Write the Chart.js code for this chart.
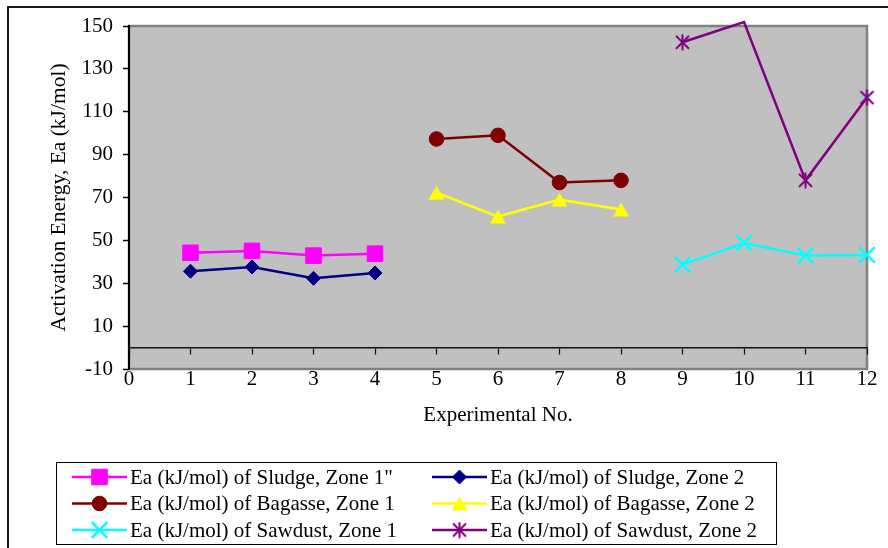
<!DOCTYPE html>
<html>
<head>
<meta charset="utf-8">
<script src="https://cdn.jsdelivr.net/npm/chart.js@4.4.1/dist/chart.umd.min.js"></script>
<style>
  html, body { margin: 0; padding: 0; background: #fff; overflow: hidden; }
  #wrap { width: 888px; height: 548px; }
</style>
</head>
<body>
<div id="wrap"><canvas id="eaChart" width="888" height="548"></canvas></div>
<script>
// experiment numbers along the x axis
const experimentNo = [1, 2, 3, 4, 5, 6, 7, 8, 9, 10, 11, 12];

// activation energy, kJ/mol (null = not measured in that run)
const sludgeZone1  = [44.2, 45.1, 42.9, 43.8, null, null, null, null, null, null, null, null];
const sludgeZone2  = [35.6, 37.6, 32.3, 34.8, null, null, null, null, null, null, null, null];
const bagasseZone1 = [null, null, null, null, 97.3, 99.0, 77.0, 78.0, null, null, null, null];
const bagasseZone2 = [null, null, null, null, 72.2, 61.1, 69.0, 64.4, null, null, null, null];
const sawdustZone1 = [null, null, null, null, null, null, null, null, 38.7, 48.8, 42.9, 43.2];
const sawdustZone2 = [null, null, null, null, null, null, null, null, 142.4, 151.8, 78.0, 116.6];

const seriesLabels = [
    'Ea (kJ/mol) of Sludge, Zone 1"',
    'Ea (kJ/mol) of Sludge, Zone 2',
    'Ea (kJ/mol) of Bagasse, Zone 1',
    'Ea (kJ/mol) of Bagasse, Zone 2',
    'Ea (kJ/mol) of Sawdust, Zone 1',
    'Ea (kJ/mol) of Sawdust, Zone 2'
];

const yTickValues = [-10, 10, 30, 50, 70, 90, 110, 130, 150];
const xMin = 0, xMax = 12;
const yMin = -10, yMax = 150;

const FONT = "'Liberation Serif', 'Times New Roman', serif";

// Excel style asterisk marker: an x with a vertical bar
function makeAsterisk(color) {
    const c = document.createElement('canvas');
    c.width = 17; c.height = 17;
    const g = c.getContext('2d');
    g.strokeStyle = color;
    g.lineWidth = 2;
    g.beginPath();
    g.moveTo(2, 2); g.lineTo(15, 15);
    g.moveTo(15, 2); g.lineTo(2, 15);
    g.moveTo(8.5, 0.5); g.lineTo(8.5, 16.5);
    g.stroke();
    return c;
}

// triangle centred on its bounding box (Chart.js centres on the centroid)
function makeTriangle(color) {
    const c = document.createElement('canvas');
    c.width = 17; c.height = 15;
    const g = c.getContext('2d');
    g.fillStyle = color;
    g.beginPath();
    g.moveTo(8.5, 0.5);
    g.lineTo(16.5, 14.5);
    g.lineTo(0.5, 14.5);
    g.closePath();
    g.fill();
    return c;
}

function toPoints(values) {
    return experimentNo
        .map((x, i) => ({ x: x, y: values[i] }))
        .filter(p => p.y !== null);
}

function series(label, values, color, style, radius, extra) {
    return Object.assign({
        label: label,
        data: toPoints(values),
        borderColor: color,
        backgroundColor: color,
        borderWidth: 2.5,
        pointStyle: style,
        pointRadius: radius,
        pointBackgroundColor: color,
        pointBorderColor: color,
        pointBorderWidth: 1,
        tension: 0,
        clip: false
    }, extra || {});
}

const datasets = [
    series(seriesLabels[0], sludgeZone1, '#ff00ff', 'rect', 11),
    series(seriesLabels[1], sludgeZone2, '#000080', 'rectRot', 7),
    series(seriesLabels[2], bagasseZone1, '#800000', 'circle', 7.3),
    series(seriesLabels[3], bagasseZone2, '#ffff00', makeTriangle('#ffff00'), 8),
    series(seriesLabels[4], sawdustZone1, '#00ffff', 'crossRot', 11, { pointBorderWidth: 2.5 }),
    series(seriesLabels[5], sawdustZone2, '#800080', makeAsterisk('#800080'), 8, {
        // Excel hides markers that fall above the axis maximum
        pointRadius: ctx => (ctx.parsed && ctx.parsed.y > yMax) ? 0 : 8
    })
];

// grey plot area, its frame and the outer chart border
const plotFrame = {
    id: 'plotFrame',
    beforeDraw(chart) {
        const { ctx, chartArea: a } = chart;
        ctx.save();
        ctx.strokeStyle = '#1a1a1a';
        ctx.lineWidth = 2;
        ctx.beginPath();
        ctx.moveTo(8, chart.height + 10);
        ctx.lineTo(8, 7);
        ctx.lineTo(chart.width + 10, 7);
        ctx.stroke();

        ctx.fillStyle = '#c0c0c0';
        ctx.fillRect(a.left, a.top, a.right - a.left, a.bottom - a.top);
        ctx.strokeStyle = '#808080';
        ctx.lineWidth = 2.5;
        ctx.strokeRect(a.left, a.top, a.right - a.left, a.bottom - a.top);
        ctx.restore();
    }
};

// boxed legend in two columns, like the Excel original
const boxLegend = {
    id: 'boxLegend',
    afterDraw(chart) {
        const { ctx } = chart;
        const box = { x: 56.5, y: 462.5, w: 720, h: 82 };
        const colX = [72, 432];
        const rowY = [477, 503.5, 530];
        const lineLen = 55;
        ctx.save();
        ctx.strokeStyle = '#000';
        ctx.lineWidth = 1;
        ctx.strokeRect(box.x, box.y, box.w, box.h);

        chart.data.datasets.forEach((ds, i) => {
            const x = colX[i % 2];
            const y = rowY[Math.floor(i / 2)];
            ctx.strokeStyle = ds.borderColor;
            ctx.lineWidth = ds.borderWidth;
            ctx.beginPath();
            ctx.moveTo(x, y);
            ctx.lineTo(x + lineLen, y);
            ctx.stroke();

            const r = typeof ds.pointRadius === 'function' ? 8 : ds.pointRadius;
            ctx.fillStyle = ds.pointBackgroundColor;
            ctx.strokeStyle = ds.pointBorderColor;
            ctx.lineWidth = ds.pointBorderWidth;
            Chart.helpers.drawPoint(ctx, {
                pointStyle: ds.pointStyle, radius: r, borderWidth: ds.pointBorderWidth, rotation: 0
            }, x + lineLen / 2, y);

            ctx.fillStyle = '#000';
            ctx.font = '21px ' + FONT;
            ctx.textAlign = 'left';
            ctx.textBaseline = 'middle';
            ctx.fillText(ds.label, x + lineLen + 3, y + 1);
        });
        ctx.restore();
    }
};

new Chart(document.getElementById('eaChart'), {
    type: 'line',
    data: { datasets: datasets },
    plugins: [plotFrame, boxLegend],
    options: {
        responsive: false,
        animation: false,
        layout: { padding: { top: 26, right: 21, left: 0, bottom: 0 } },
        plugins: {
            legend: { display: false },
            tooltip: { enabled: false }
        },
        scales: {
            x: {
                type: 'linear',
                position: 'bottom',
                min: xMin,
                max: xMax,
                ticks: { stepSize: 1, padding: 0, color: '#000', font: { family: FONT, size: 21, lineHeight: 1 } },
                grid: { display: false, drawTicks: false },
                border: { display: false },
                title: {
                    display: true,
                    text: 'Experimental No.',
                    color: '#000',
                    font: { family: FONT, size: 21 },
                    padding: { top: 0, bottom: 120 }
                },
                afterFit: s => { s.height = 179; }
            },
            // axis line crossing at Ea = 0, with tick marks only
            x0: {
                type: 'linear',
                axis: 'x',
                position: { y: 0 },
                min: xMin,
                max: xMax,
                ticks: { display: false, stepSize: 1 },
                grid: { drawOnChartArea: false, drawTicks: true, tickLength: 6, tickColor: '#111', tickWidth: 1.2 },
                border: { color: '#111', width: 1.5 }
            },
            y: {
                type: 'linear',
                min: yMin,
                max: yMax,
                afterBuildTicks: s => { s.ticks = yTickValues.map(v => ({ value: v })); },
                ticks: { padding: 10, color: '#000', font: { family: FONT, size: 21 } },
                grid: { drawOnChartArea: false, drawTicks: true, tickLength: 6, tickColor: '#000', tickWidth: 1.5 },
                border: { color: '#000', width: 2 },
                title: {
                    display: true,
                    text: 'Activation Energy, Ea (kJ/mol)',
                    color: '#000',
                    font: { family: FONT, size: 21.5 },
                    padding: { top: 46, bottom: 0 }
                },
                afterFit: s => { s.width = 129; }
            }
        }
    }
});
</script>
</body>
</html>
